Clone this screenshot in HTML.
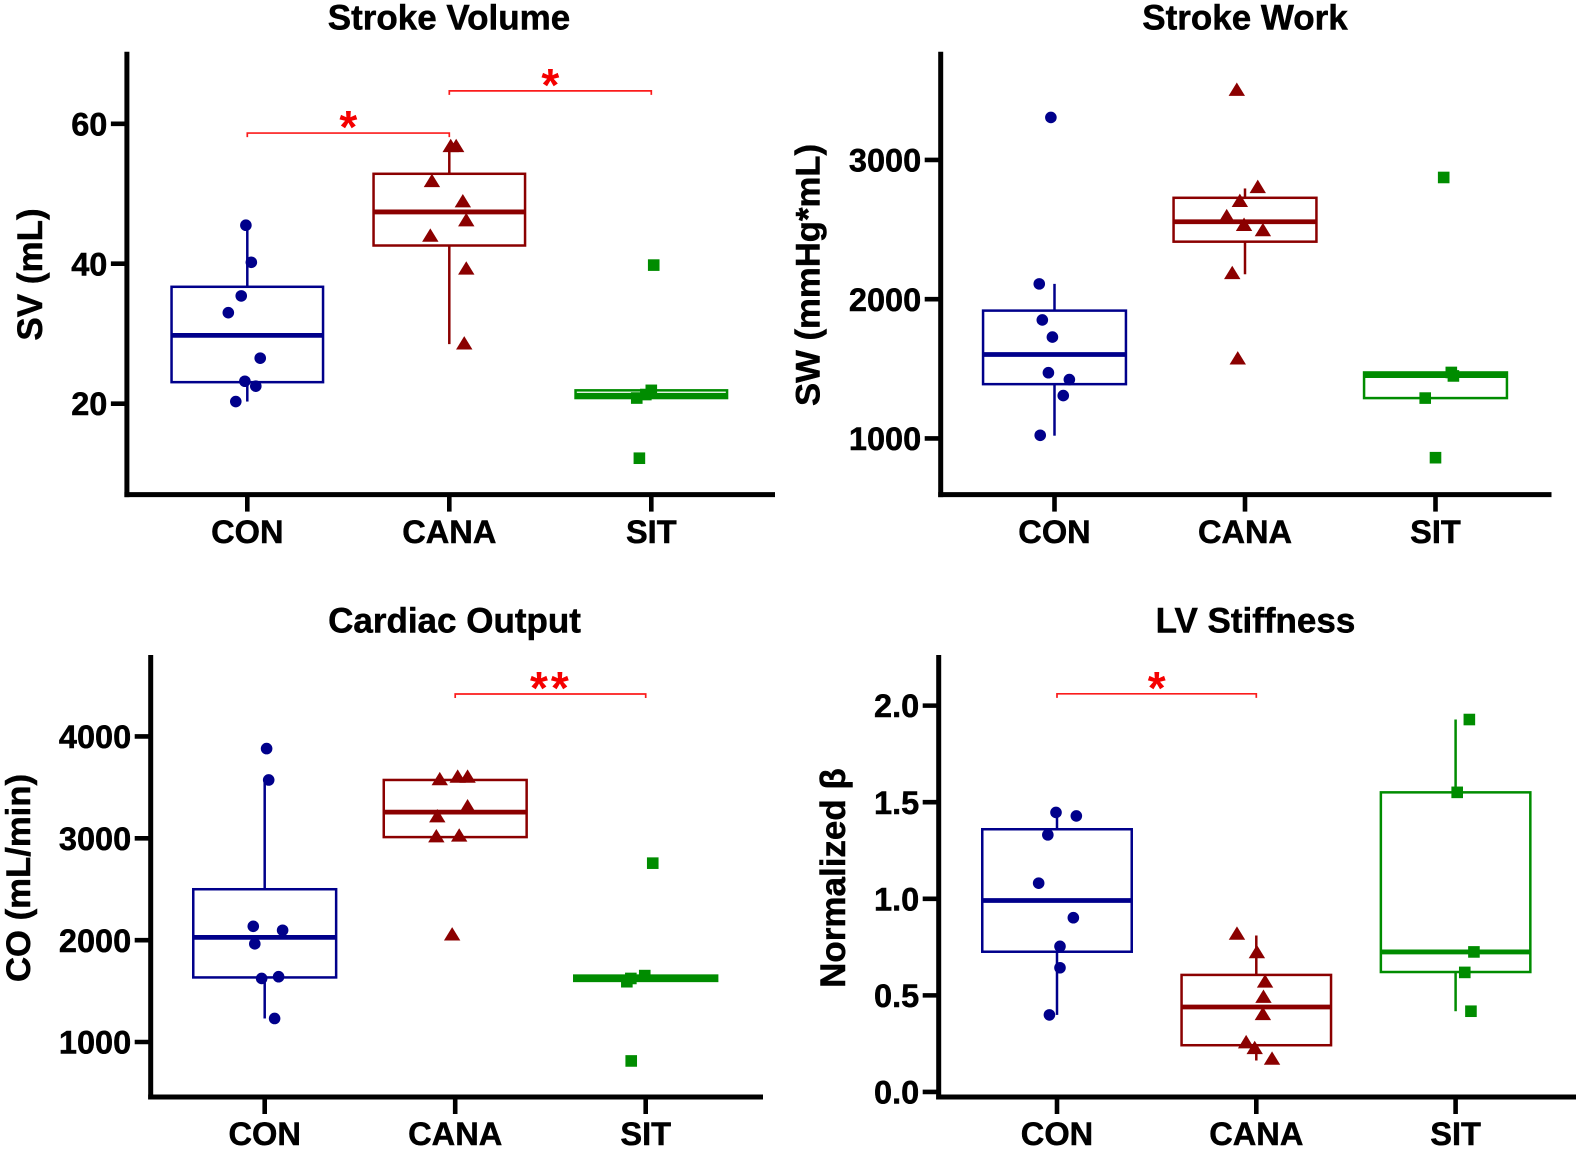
<!DOCTYPE html>
<html lang="en">
<head>
<meta charset="utf-8">
<title>Stroke Volume, Stroke Work, Cardiac Output and LV Stiffness</title>
<style>
  html, body { margin: 0; padding: 0; background: #fff; }
  svg { display: block; }
  text { font-family: "Liberation Sans", Arial, sans-serif; font-weight: 700; fill: #000; stroke: #000; stroke-width: 0.5px; }
</style>
</head>
<body>
<svg id="figure" xmlns="http://www.w3.org/2000/svg" width="1580" height="1150" viewBox="0 0 1580 1150">
  <rect x="0" y="0" width="1580" height="1150" fill="#ffffff"/>

  <g id="panel-sv">
    <text x="449" y="29.5" font-size="35" text-anchor="middle">Stroke Volume</text>
    <text transform="translate(42 274.5) rotate(-90)" font-size="35" text-anchor="middle">SV (mL)</text>
  </g>
  <g id="panel-sw">
    <text x="1245" y="29.5" font-size="35" text-anchor="middle">Stroke Work</text>
    <text transform="translate(819.5 275) rotate(-90)" font-size="34.7" text-anchor="middle">SW (mmHg*mL)</text>
  </g>
  <g id="panel-co">
    <text x="454.5" y="632.5" font-size="35" text-anchor="middle">Cardiac Output</text>
    <text transform="translate(30 878) rotate(-90)" font-size="34.7" text-anchor="middle">CO (mL/min)</text>
  </g>
  <g id="panel-lv">
    <text x="1255.5" y="632.5" font-size="35" text-anchor="middle">LV Stiffness</text>
    <text transform="translate(845 878) rotate(-90)" font-size="35" text-anchor="middle">Normalized β</text>
  </g>
</svg>

<script>
// ---- shared categories ----
const categories = ['CON', 'CANA', 'SIT'];

// ---- Stroke Volume data ----
const svTicks = [20, 40, 60];
const svTickLabels = ['20', '40', '60'];
// box stats: [whisker low, q1, median, q3, whisker high]
const svConBox = [20.3, 23.07, 29.76, 36.7, 45.5];
const svCanaBox = [28.5, 42.6, 47.4, 52.85, 56.8];
const svSitBox = [20.8, 20.8, 21.2, 21.9, 21.9];
const svConValues = [45.5, 40.2, 35.4, 33.0, 26.5, 23.2, 22.5, 20.3];
const svCanaValues = [56.8, 56.8, 51.8, 48.9, 46.2, 44.0, 39.3, 28.6];
const svSitValues = [39.8, 21.9, 21.3, 20.8, 12.2];
// horizontal scatter offset in category-axis units
const svConJitter = [-0.007, 0.02, -0.03, -0.094, 0.064, -0.012, 0.042, -0.057];
const svCanaJitter = [0.007, 0.034, -0.086, 0.067, 0.084, -0.094, 0.084, 0.074];
const svSitJitter = [0.012, 0, -0.027, -0.072, -0.059];
// significance: [from category, to category, bracket value, stars]
const svBrackets = [[0, 1, 58.67, '*'], [1, 2, 64.7, '*']];

// ---- Stroke Work data ----
const swTicks = [1000, 2000, 3000];
const swTickLabels = ['1000', '2000', '3000'];
const swConBox = [1020, 1390, 1603, 1918, 2110];
const swCanaBox = [2179, 2413, 2556, 2728, 2795];
const swSitBox = [1290, 1290, 1451, 1474, 1474];
const swConValues = [3305, 2110, 1851, 1728, 1472, 1423, 1308, 1023];
const swCanaValues = [3503, 2805, 2705, 2595, 2533, 2495, 2187, 1574];
const swSitValues = [2874, 1474, 1449, 1290, 862];
const swConJitter = [-0.019, -0.08, -0.064, -0.011, -0.032, 0.078, 0.046, -0.075];
const swCanaJitter = [-0.043, 0.067, -0.027, -0.096, -0.005, 0.094, -0.067, -0.038];
const swSitJitter = [0.043, 0.083, 0.094, -0.054, 0];
const swBrackets = [];

// ---- Cardiac Output data ----
const coTicks = [1000, 2000, 3000, 4000];
const coTickLabels = ['1000', '2000', '3000', '4000'];
const coConBox = [1231, 1634, 2027, 2500, 3573];
const coCanaBox = [3012, 3012, 3257, 3573, 3573];
const coSitBox = [1600, 1600, 1624, 1652, 1652];
const coConValues = [3881, 3573, 2136, 2097, 1964, 1641, 1624, 1231];
const coCanaValues = [3580, 3604, 3604, 3313, 3215, 3019, 3026, 2055];
const coSitValues = [2756, 1652, 1624, 1592, 814];
const coConJitter = [0.01, 0.021, -0.06, 0.094, -0.052, 0.073, -0.016, 0.052];
const coCanaJitter = [-0.081, 0.013, 0.065, 0.065, -0.094, -0.099, 0.021, -0.016];
const coSitJitter = [0.037, -0.005, -0.078, -0.099, -0.076];
const coBrackets = [[1, 2, 4417, '**']];

// ---- LV Stiffness data ----
const lvTicks = [0, 0.5, 1, 1.5, 2];
const lvTickLabels = ['0.0', '0.5', '1.0', '1.5', '2.0'];
const lvConBox = [0.399, 0.726, 0.991, 1.36, 1.447];
const lvCanaBox = [0.163, 0.242, 0.44, 0.606, 0.81];
const lvSitBox = [0.418, 0.621, 0.725, 1.551, 1.928];
const lvConValues = [1.447, 1.429, 1.331, 1.081, 0.902, 0.754, 0.643, 0.399];
const lvCanaValues = [0.819, 0.723, 0.571, 0.492, 0.403, 0.257, 0.227, 0.172];
const lvSitValues = [1.928, 1.551, 0.725, 0.619, 0.418];
const lvConJitter = [-0.005, 0.097, -0.046, -0.092, 0.082, 0.015, 0.015, -0.038];
const lvCanaJitter = [-0.097, 0.003, 0.044, 0.036, 0.033, -0.051, -0.008, 0.079];
const lvSitJitter = [0.069, 0.008, 0.092, 0.046, 0.077];
const lvBrackets = [[0, 1, 2.061, '*']];

// ---- drawing ----
const SVG_NS = 'http://www.w3.org/2000/svg';
const NAVY = '#00008b';
const DARKRED = '#8b0000';
const GREEN = '#008c00';
const RED = '#fb1c1c';
const BOX_HALF = 0.375;

function make(parent, tag, attrs) {
  const el = document.createElementNS(SVG_NS, tag);
  for (const key in attrs) el.setAttribute(key, attrs[key]);
  parent.appendChild(el);
  return el;
}

function drawPanel(p) {
  const root = document.getElementById(p.id);
  const yScale = v => p.bottom - (v - p.yMin) / (p.yMax - p.yMin) * (p.bottom - p.top);
  const xScale = c => p.x0 + c * p.spacing;

  // whisker + box + median for each group
  p.boxes.forEach((box, i) => {
    const color = p.colors[i];
    const cx = xScale(i);
    const [low, q1, med, q3, high] = box;
    const halfW = BOX_HALF * p.spacing;

    const whiskerUp = make(root, 'line', { x1: cx, x2: cx, y1: yScale(q3), y2: yScale(high), stroke: color, 'stroke-width': 2.5 });
    
    

    const whiskerDown = make(root, 'line', { x1: cx, x2: cx, y1: yScale(q1), y2: yScale(low), stroke: color, 'stroke-width': 2.5 });
    
    

    const rect = make(root, 'rect', { x: cx - halfW, y: yScale(q3), width: halfW * 2, height: yScale(q1) - yScale(q3), fill: 'none', stroke: color, 'stroke-width': 2.5 });
    
    

    const median = make(root, 'line', { x1: cx - halfW, x2: cx + halfW, y1: yScale(med), y2: yScale(med), stroke: color, 'stroke-width': 4.8 });
    
    
  });

  // data points
  p.values.forEach((vals, i) => {
    vals.forEach((v, k) => {
      const px = xScale(i + p.jitter[i][k]);
      const py = yScale(v);
      let mark;
      if (i === 0) {
        mark = make(root, 'circle', { cx: px, cy: py, r: 5.8, fill: NAVY });
      } else if (i === 1) {
        const pts = [[px, py - 7.4], [px + 8.2, py + 6], [px - 8.2, py + 6]].map(q => q.join(',')).join(' ');
        mark = make(root, 'polygon', { points: pts, fill: DARKRED });
      } else {
        mark = make(root, 'rect', { x: px - 5.8, y: py - 5.8, width: 11.6, height: 11.6, fill: GREEN });
      }
      
      
    });
  });

  // y axis and x axis
  const yAxis = make(root, 'line', { x1: p.axisX, x2: p.axisX, y1: p.top, y2: p.bottom + 2.5, stroke: '#000', 'stroke-width': 5 });
  
  

  const xAxis = make(root, 'line', { x1: p.axisX - 2.5, x2: p.axisEnd, y1: p.bottom, y2: p.bottom, stroke: '#000', 'stroke-width': 5 });
  
  

  p.ticks.forEach((t, i) => {
    const ty = yScale(t);
    const tick = make(root, 'line', { x1: p.axisX - 16, x2: p.axisX, y1: ty, y2: ty, stroke: '#000', 'stroke-width': 4.6 });
    
    

    const label = make(root, 'text', { x: p.axisX - 19.5, y: ty + 11.6, 'font-size': 32.5, 'text-anchor': 'end' });
    label.textContent = p.tickLabels[i];
    
    
  });

  categories.forEach((c, i) => {
    const tx = xScale(i);
    const tick = make(root, 'line', { x1: tx, x2: tx, y1: p.bottom, y2: p.bottom + 17, stroke: '#000', 'stroke-width': 4.6 });
    
    

    const label = make(root, 'text', { x: tx, y: p.labelY, 'font-size': 32.6, 'text-anchor': 'middle' });
    label.textContent = c;
    
    
  });

  // significance brackets
  p.brackets.forEach(b => {
    const xa = xScale(b[0]);
    const xb = xScale(b[1]);
    const by = yScale(b[2]);
    const path = make(root, 'path', { d: 'M' + xa + ' ' + (by + 4) + 'V' + by + 'H' + xb + 'V' + (by + 4), fill: 'none', stroke: RED, 'stroke-width': 1.7 });
    
    

    const spread = b[3].length > 1 ? 3 : 0;
    const star = make(root, 'text', { x: (xa + xb) / 2 + spread / 2 - (b[3].length > 1 ? 1 : 0), y: by + 10, 'font-size': 46, 'text-anchor': 'middle', 'letter-spacing': spread });
    star.style.fill = '#f50000';
    star.style.stroke = 'none';
    star.textContent = b[3];
    
    
  });
}

const groupColors = [NAVY, DARKRED, GREEN];

drawPanel({
  id: 'panel-sv', top: 51.7, bottom: 494.6, axisX: 126.9, axisEnd: 775,
  x0: 247.3, spacing: 202, yMin: 7, yMax: 70.3, labelY: 543, colors: groupColors,
  ticks: svTicks, tickLabels: svTickLabels,
  boxes: [svConBox, svCanaBox, svSitBox],
  values: [svConValues, svCanaValues, svSitValues],
  jitter: [svConJitter, svCanaJitter, svSitJitter],
  brackets: svBrackets
});
drawPanel({
  id: 'panel-sw', top: 51.7, bottom: 494.6, axisX: 940.7, axisEnd: 1551.5,
  x0: 1054.5, spacing: 190.5, yMin: 597, yMax: 3777, labelY: 543, colors: groupColors,
  ticks: swTicks, tickLabels: swTickLabels,
  boxes: [swConBox, swCanaBox, swSitBox],
  values: [swConValues, swCanaValues, swSitValues],
  jitter: [swConJitter, swCanaJitter, swSitJitter],
  brackets: swBrackets
});
drawPanel({
  id: 'panel-co', top: 655, bottom: 1097, axisX: 150.7, axisEnd: 763,
  x0: 264.7, spacing: 190.5, yMin: 460, yMax: 4800, labelY: 1145, colors: groupColors,
  ticks: coTicks, tickLabels: coTickLabels,
  boxes: [coConBox, coCanaBox, coSitBox],
  values: [coConValues, coCanaValues, coSitValues],
  jitter: [coConJitter, coCanaJitter, coSitJitter],
  brackets: coBrackets
});
drawPanel({
  id: 'panel-lv', top: 655, bottom: 1097, axisX: 938.7, axisEnd: 1576,
  x0: 1057, spacing: 199.3, yMin: -0.026, yMax: 2.262, labelY: 1145, colors: groupColors,
  ticks: lvTicks, tickLabels: lvTickLabels,
  boxes: [lvConBox, lvCanaBox, lvSitBox],
  values: [lvConValues, lvCanaValues, lvSitValues],
  jitter: [lvConJitter, lvCanaJitter, lvSitJitter],
  brackets: lvBrackets
});
</script>
</body>
</html>
